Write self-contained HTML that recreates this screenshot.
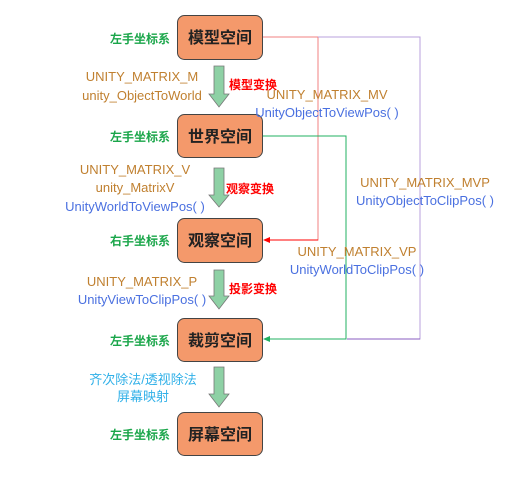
<!DOCTYPE html>
<html><head><meta charset="utf-8"><style>
body{margin:0;background:#fff;width:515px;height:476px;overflow:hidden;font-family:"Liberation Sans","Noto Sans CJK SC",sans-serif}
svg text{font-family:"Liberation Sans","Noto Sans CJK SC",sans-serif}
</style></head><body>
<svg width="515" height="476" xmlns="http://www.w3.org/2000/svg">
<!-- connectors -->
<polyline points="262,37 318,37 318,240 268,240" fill="none" stroke="#f08080" stroke-width="1"/>
<line x1="318" y1="240" x2="268" y2="240" stroke="#ff0000" stroke-width="1"/>
<polygon points="263,240 270,237 270,243" fill="#ff0000"/>
<polyline points="318,37 420,37 420,339 347,339" fill="none" stroke="#b9a0dc" stroke-width="1"/>
<line x1="420" y1="339" x2="347" y2="339" stroke="#8a5cc0" stroke-width="1"/>
<polyline points="262,136 346,136 346,339 268,339" fill="none" stroke="#20b060" stroke-width="1"/>
<polygon points="263,339 270,336 270,342" fill="#20b060"/>
<!-- boxes -->
<g fill="#f4996b" stroke="#444" stroke-width="1">
<rect x="177.5" y="15.5" width="85" height="44" rx="7"/>
<rect x="177.5" y="114.5" width="85" height="43" rx="7"/>
<rect x="177.5" y="218.5" width="85" height="44" rx="7"/>
<rect x="177.5" y="318.5" width="85" height="43" rx="7"/>
<rect x="177.5" y="412.5" width="85" height="43" rx="7"/>
</g>
<g font-size="16" font-weight="bold" fill="#222" text-anchor="middle">
<text x="220" y="43">模型空间</text>
<text x="220" y="142">世界空间</text>
<text x="220" y="246">观察空间</text>
<text x="220" y="346">裁剪空间</text>
<text x="220" y="440">屏幕空间</text>
</g>
<!-- arrows -->
<g fill="#8ed1a5" stroke="#777" stroke-width="0.8">
<polygon points="214,66 224,66 224,94 229,94 219,107 209,94 214,94"/>
<polygon points="214,168 224,168 224,195 229,195 219,207 209,195 214,195"/>
<polygon points="214,270 224,270 224,296 229,296 219,309 209,296 214,296"/>
<polygon points="214,367 224,367 224,394 229,394 219,407 209,394 214,394"/>
</g>
<!-- left labels -->
<g font-size="12" font-weight="bold" fill="#1aa64a" text-anchor="end">
<text x="170" y="43">左手坐标系</text>
<text x="170" y="141">左手坐标系</text>
<text x="170" y="245">右手坐标系</text>
<text x="170" y="345">左手坐标系</text>
<text x="170" y="439">左手坐标系</text>
</g>
<g font-size="12" font-weight="bold" fill="#ff0000">
<text x="229" y="89">模型变换</text>
<text x="226" y="193">观察变换</text>
<text x="229" y="293">投影变换</text>
</g>
<g font-size="13" text-anchor="middle">
<text x="142" y="81" fill="#c08030">UNITY_MATRIX_M</text>
<text x="142" y="100" fill="#c08030">unity_ObjectToWorld</text>
<text x="135" y="174" fill="#c08030">UNITY_MATRIX_V</text>
<text x="135" y="192" fill="#c08030">unity_MatrixV</text>
<text x="135" y="211" fill="#4a70e0">UnityWorldToViewPos( )</text>
<text x="142" y="286" fill="#c08030">UNITY_MATRIX_P</text>
<text x="142" y="304" fill="#4a70e0">UnityViewToClipPos( )</text>
<text x="143" y="384" fill="#30b0e8">齐次除法/透视除法</text>
<text x="143" y="401" fill="#30b0e8">屏幕映射</text>
<text x="327" y="99" fill="#c08030">UNITY_MATRIX_MV</text>
<text x="327" y="117" fill="#4a70e0">UnityObjectToViewPos( )</text>
<text x="425" y="187" fill="#c08030">UNITY_MATRIX_MVP</text>
<text x="425" y="205" fill="#4a70e0">UnityObjectToClipPos( )</text>
<text x="357" y="256" fill="#c08030">UNITY_MATRIX_VP</text>
<text x="357" y="274" fill="#4a70e0">UnityWorldToClipPos( )</text>
</g>
</svg>
</body></html>
